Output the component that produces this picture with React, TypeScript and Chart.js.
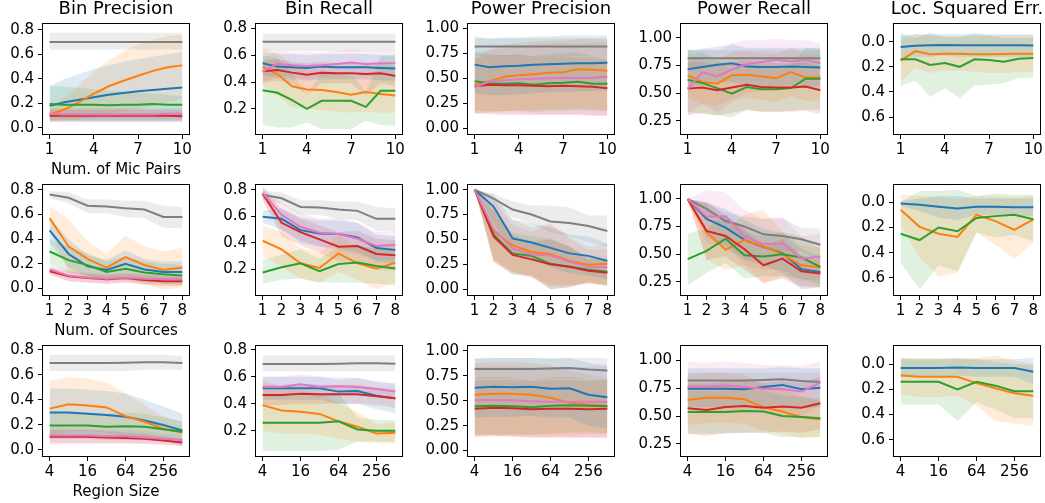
import React, { useEffect, useRef } from "react";
import { Chart, registerables } from "chart.js";
Chart.register(...registerables);
Chart.defaults.font.family = '"DejaVu Sans", sans-serif';
Chart.defaults.color = "#000";

// ---------- x values & ticks ----------
const micPairs = [1, 2, 3, 4, 5, 6, 7, 8, 9, 10];
const numSources = [1, 2, 3, 4, 5, 6, 7, 8];
const regionSizes = [4, 8, 16, 32, 64, 128, 256, 512];
const micTicks = [1, 4, 7, 10];
const srcTicks = [1, 2, 3, 4, 5, 6, 7, 8];
const regionTicks = [4, 16, 64, 256];

const binPrecTicks = [0, 0.2, 0.4, 0.6, 0.8];
const binRecTicks = [0.2, 0.4, 0.6, 0.8];
const powPrecTicks = [0, 0.25, 0.5, 0.75, 1];
const powRecTicks = [0.25, 0.5, 0.75, 1];
const locTicks = [0, 0.2, 0.4, 0.6];

const titles = ["Bin Precision", "Bin Recall", "Power Precision", "Power Recall", "Loc. Squared Err."];
const xLabels = ["Num. of Mic Pairs", "Num. of Sources", "Region Size"];

// ---------- series: [mean, lower, upper] ----------
// Row 1: Num. of Mic Pairs
const bpMicGray = [[0.70,0.70,0.70,0.70,0.70,0.70,0.70,0.70,0.70,0.70],[0.64,0.64,0.64,0.64,0.64,0.64,0.64,0.64,0.64,0.64],[0.775,0.775,0.775,0.775,0.775,0.775,0.775,0.775,0.775,0.775]];
const bpMicBlue = [[0.18,0.21,0.23,0.25,0.27,0.285,0.30,0.31,0.32,0.33],[0.05,0.05,0.05,0.05,0.05,0.05,0.05,0.05,0.05,0.05],[0.34,0.40,0.44,0.48,0.51,0.54,0.56,0.58,0.60,0.62]];
const bpMicOrange = [[0.11,0.15,0.21,0.28,0.34,0.385,0.425,0.465,0.495,0.51],[0.06,0.06,0.07,0.09,0.11,0.13,0.15,0.18,0.21,0.24],[0.17,0.25,0.35,0.46,0.55,0.62,0.68,0.72,0.75,0.76]];
const bpMicGreen = [[0.195,0.19,0.19,0.19,0.185,0.19,0.19,0.195,0.19,0.19],[0.07,0.07,0.07,0.07,0.07,0.07,0.07,0.07,0.07,0.07],[0.345,0.335,0.325,0.315,0.305,0.30,0.29,0.28,0.27,0.26]];
const bpMicRed = [[0.10,0.10,0.10,0.10,0.10,0.10,0.10,0.10,0.10,0.095],[0.05,0.05,0.05,0.05,0.05,0.05,0.05,0.05,0.05,0.05],[0.15,0.15,0.15,0.15,0.15,0.15,0.15,0.15,0.15,0.15]];
const bpMicPink = [[0.115,0.11,0.11,0.11,0.11,0.11,0.11,0.11,0.115,0.115],[0.06,0.06,0.06,0.06,0.06,0.06,0.06,0.06,0.06,0.06],[0.16,0.16,0.16,0.16,0.16,0.16,0.16,0.16,0.16,0.16]];

const brMicGray = [[0.70,0.70,0.70,0.70,0.70,0.70,0.70,0.70,0.70,0.70],[0.63,0.63,0.63,0.63,0.63,0.63,0.63,0.63,0.63,0.63],[0.76,0.76,0.76,0.76,0.76,0.76,0.76,0.76,0.76,0.76]];
const brMicBlue = [[0.54,0.515,0.51,0.505,0.515,0.51,0.51,0.51,0.505,0.50],[0.45,0.43,0.42,0.41,0.42,0.42,0.42,0.42,0.41,0.41],[0.63,0.61,0.61,0.60,0.61,0.61,0.61,0.61,0.60,0.60]];
const brMicOrange = [[0.512,0.46,0.368,0.345,0.34,0.325,0.305,0.325,0.31,0.30],[0.37,0.30,0.21,0.20,0.19,0.18,0.17,0.18,0.17,0.17],[0.65,0.62,0.53,0.49,0.49,0.47,0.44,0.47,0.45,0.43]];
const brMicGreen = [[0.339,0.32,0.265,0.20,0.26,0.26,0.26,0.215,0.335,0.335],[0.08,0.06,0.06,0.10,0.05,0.05,0.05,0.11,0.08,0.07],[0.60,0.58,0.47,0.30,0.47,0.47,0.47,0.32,0.59,0.60]];
const brMicRed = [[0.48,0.49,0.47,0.455,0.47,0.465,0.465,0.46,0.465,0.445],[0.40,0.41,0.39,0.30,0.39,0.39,0.39,0.30,0.39,0.37],[0.56,0.57,0.55,0.54,0.55,0.54,0.54,0.54,0.54,0.52]];
const brMicPink = [[0.477,0.537,0.525,0.52,0.525,0.535,0.545,0.535,0.54,0.54],[0.38,0.45,0.44,0.42,0.44,0.45,0.46,0.44,0.45,0.45],[0.58,0.63,0.62,0.62,0.62,0.63,0.64,0.63,0.63,0.63]];

const ppMicGray = [[0.82,0.82,0.82,0.82,0.82,0.82,0.82,0.82,0.82,0.82],[0.72,0.72,0.72,0.72,0.72,0.72,0.72,0.72,0.72,0.72],[0.90,0.90,0.90,0.90,0.90,0.90,0.90,0.90,0.90,0.90]];
const ppMicBlue = [[0.637,0.61,0.62,0.625,0.635,0.64,0.645,0.65,0.65,0.655],[0.35,0.33,0.33,0.34,0.35,0.36,0.36,0.37,0.37,0.38],[0.92,0.90,0.91,0.91,0.92,0.92,0.93,0.93,0.93,0.93]];
const ppMicOrange = [[0.44,0.47,0.515,0.53,0.54,0.555,0.56,0.59,0.585,0.575],[0.15,0.15,0.17,0.18,0.18,0.19,0.19,0.20,0.19,0.18],[0.74,0.79,0.84,0.86,0.87,0.88,0.88,0.90,0.90,0.89]];
const ppMicGreen = [[0.47,0.45,0.445,0.45,0.435,0.45,0.455,0.465,0.445,0.445],[0.17,0.17,0.17,0.17,0.16,0.17,0.17,0.18,0.17,0.17],[0.77,0.74,0.73,0.74,0.72,0.74,0.75,0.76,0.72,0.72]];
const ppMicRed = [[0.42,0.435,0.43,0.43,0.425,0.42,0.425,0.42,0.415,0.40],[0.14,0.14,0.13,0.13,0.13,0.13,0.13,0.13,0.12,0.12],[0.70,0.73,0.73,0.73,0.72,0.72,0.72,0.71,0.71,0.68]];
const ppMicPink = [[0.41,0.47,0.48,0.49,0.495,0.50,0.505,0.50,0.505,0.515],[0.15,0.16,0.15,0.15,0.14,0.14,0.14,0.14,0.13,0.13],[0.70,0.78,0.80,0.82,0.84,0.85,0.86,0.85,0.86,0.87]];

const prMicGray = [[0.815,0.815,0.815,0.815,0.815,0.815,0.815,0.815,0.815,0.815],[0.74,0.74,0.74,0.74,0.74,0.74,0.74,0.74,0.74,0.74],[0.89,0.89,0.89,0.89,0.89,0.89,0.89,0.89,0.89,0.89]];
const prMicBlue = [[0.715,0.735,0.755,0.77,0.74,0.735,0.735,0.74,0.735,0.73],[0.55,0.57,0.59,0.60,0.57,0.56,0.56,0.57,0.56,0.56],[0.88,0.90,0.92,0.94,0.91,0.91,0.91,0.91,0.91,0.90]];
const prMicOrange = [[0.66,0.60,0.585,0.66,0.665,0.65,0.635,0.69,0.64,0.64],[0.45,0.40,0.38,0.45,0.45,0.44,0.42,0.47,0.43,0.43],[0.87,0.80,0.79,0.87,0.88,0.86,0.85,0.91,0.85,0.85]];
const prMicGreen = [[0.62,0.59,0.545,0.495,0.555,0.535,0.535,0.545,0.63,0.63],[0.33,0.31,0.30,0.28,0.35,0.33,0.33,0.34,0.35,0.35],[0.90,0.87,0.80,0.71,0.76,0.74,0.74,0.75,0.91,0.91]];
const prMicRed = [[0.54,0.55,0.525,0.55,0.575,0.555,0.55,0.55,0.56,0.525],[0.30,0.32,0.30,0.32,0.35,0.33,0.33,0.33,0.34,0.31],[0.78,0.78,0.75,0.78,0.80,0.78,0.77,0.77,0.78,0.74]];
const prMicPink = [[0.538,0.69,0.65,0.715,0.76,0.78,0.80,0.785,0.80,0.77],[0.30,0.40,0.32,0.42,0.50,0.52,0.55,0.53,0.55,0.52],[0.78,0.90,0.88,0.95,0.98,0.98,0.99,0.98,0.98,0.95]];

const leMicBlue = [[0.042,0.032,0.028,0.026,0.028,0.028,0.028,0.028,0.028,0.03],[-0.05,-0.06,-0.06,-0.06,-0.06,-0.06,-0.06,-0.06,-0.06,-0.06],[0.13,0.12,0.12,0.11,0.12,0.12,0.12,0.12,0.12,0.12]];
const leMicOrange = [[0.15,0.075,0.10,0.095,0.095,0.10,0.10,0.098,0.095,0.095],[-0.02,-0.06,-0.05,-0.04,-0.04,-0.04,-0.05,-0.05,-0.05,-0.05],[0.32,0.21,0.25,0.23,0.23,0.24,0.25,0.25,0.24,0.24]];
const leMicGreen = [[0.14,0.14,0.185,0.17,0.20,0.14,0.145,0.16,0.135,0.13],[-0.07,-0.03,-0.07,-0.04,-0.04,-0.07,-0.05,-0.03,-0.03,-0.03],[0.35,0.31,0.44,0.37,0.45,0.35,0.34,0.33,0.29,0.29]];

// Row 2: Num. of Sources
const bpSrcGray = [[0.762,0.735,0.67,0.665,0.65,0.64,0.58,0.58],[0.73,0.69,0.61,0.61,0.58,0.57,0.49,0.49],[0.79,0.78,0.72,0.72,0.71,0.71,0.67,0.66]];
const bpSrcBlue = [[0.47,0.28,0.18,0.15,0.20,0.155,0.135,0.135],[0.37,0.17,0.10,0.08,0.10,0.08,0.06,0.06],[0.57,0.40,0.27,0.23,0.31,0.24,0.22,0.22]];
const bpSrcOrange = [[0.57,0.34,0.24,0.17,0.255,0.19,0.15,0.17],[0.47,0.13,0.10,0.07,0.08,0.04,-0.01,0.01],[0.67,0.56,0.38,0.28,0.43,0.34,0.30,0.33]];
const bpSrcGreen = [[0.30,0.23,0.19,0.135,0.16,0.13,0.115,0.105],[0.20,0.13,0.10,0.06,0.07,0.05,0.04,0.03],[0.40,0.34,0.29,0.22,0.26,0.22,0.20,0.19]];
const bpSrcRed = [[0.14,0.10,0.085,0.075,0.085,0.07,0.06,0.06],[0.11,0.06,0.05,0.04,0.05,0.03,0.02,0.02],[0.17,0.14,0.12,0.11,0.12,0.11,0.10,0.10]];
const bpSrcPink = [[0.155,0.105,0.09,0.08,0.09,0.08,0.075,0.075],[0.12,0.06,0.05,0.04,0.05,0.04,0.03,0.03],[0.19,0.15,0.13,0.12,0.13,0.12,0.12,0.12]];

const brSrcGray = [[0.762,0.735,0.67,0.665,0.65,0.64,0.58,0.58],[0.73,0.69,0.61,0.61,0.58,0.57,0.49,0.49],[0.79,0.78,0.72,0.72,0.71,0.71,0.67,0.66]];
const brSrcBlue = [[0.595,0.58,0.495,0.47,0.465,0.44,0.36,0.345],[0.55,0.50,0.40,0.37,0.36,0.33,0.26,0.24],[0.64,0.66,0.59,0.57,0.57,0.55,0.46,0.45]];
const brSrcOrange = [[0.415,0.35,0.245,0.21,0.32,0.245,0.205,0.25],[0.30,0.22,0.13,0.10,0.18,0.12,0.05,0.10],[0.53,0.48,0.36,0.32,0.46,0.37,0.36,0.40]];
const brSrcGreen = [[0.175,0.215,0.245,0.185,0.24,0.25,0.225,0.205],[0.09,0.12,0.13,0.10,0.10,0.10,0.09,0.08],[0.27,0.31,0.35,0.28,0.37,0.38,0.35,0.33]];
const brSrcRed = [[0.77,0.55,0.48,0.425,0.37,0.375,0.315,0.305],[0.72,0.45,0.38,0.32,0.26,0.26,0.20,0.19],[0.82,0.65,0.58,0.53,0.48,0.49,0.43,0.42]];
const brSrcPink = [[0.775,0.61,0.52,0.475,0.465,0.43,0.375,0.385],[0.73,0.50,0.42,0.37,0.34,0.31,0.27,0.27],[0.82,0.70,0.62,0.58,0.59,0.55,0.48,0.49]];

const ppSrcGray = [[1.0,0.91,0.80,0.75,0.68,0.665,0.635,0.585],[1.0,0.86,0.72,0.66,0.57,0.53,0.47,0.43],[1.0,0.96,0.88,0.84,0.84,0.82,0.74,0.74]];
const ppSrcBlue = [[1.0,0.83,0.51,0.47,0.415,0.36,0.335,0.285],[1.0,0.66,0.34,0.30,0.22,0.16,0.14,0.10],[1.0,0.95,0.70,0.66,0.62,0.55,0.53,0.46]];
const ppSrcOrange = [[1.0,0.58,0.44,0.375,0.355,0.285,0.245,0.255],[1.0,0.29,0.18,0.13,0.05,0.04,0.06,0.05],[1.0,0.87,0.70,0.62,0.66,0.53,0.43,0.46]];
const ppSrcGreen = [[1.0,0.55,0.36,0.335,0.255,0.225,0.195,0.175],[1.0,0.28,0.15,0.14,0.0,0.02,0.07,0.04],[1.0,0.82,0.57,0.53,0.51,0.43,0.32,0.31]];
const ppSrcRed = [[1.0,0.53,0.345,0.30,0.25,0.225,0.185,0.165],[1.0,0.27,0.15,0.12,0.0,0.02,0.07,0.03],[1.0,0.79,0.54,0.48,0.50,0.43,0.30,0.30]];
const ppSrcPink = [[1.0,0.60,0.41,0.35,0.34,0.275,0.225,0.22],[1.0,0.30,0.17,0.12,0.03,0.04,0.05,0.04],[1.0,0.90,0.65,0.58,0.65,0.51,0.40,0.40]];

const prSrcGray = [[1.0,0.91,0.80,0.75,0.68,0.665,0.635,0.585],[1.0,0.86,0.72,0.66,0.57,0.53,0.53,0.44],[1.0,0.96,0.88,0.84,0.82,0.82,0.74,0.73]];
const prSrcBlue = [[1.0,0.82,0.74,0.63,0.565,0.51,0.365,0.34],[1.0,0.66,0.56,0.45,0.40,0.33,0.18,0.20],[1.0,0.97,0.91,0.81,0.73,0.69,0.55,0.48]];
const prSrcOrange = [[1.0,0.70,0.54,0.63,0.57,0.50,0.40,0.38],[1.0,0.45,0.36,0.40,0.24,0.30,0.22,0.20],[1.0,0.95,0.72,0.86,0.90,0.70,0.58,0.56]];
const prSrcGreen = [[0.455,0.53,0.64,0.49,0.48,0.50,0.47,0.385],[0.22,0.33,0.42,0.28,0.30,0.30,0.28,0.22],[0.69,0.73,0.86,0.70,0.66,0.70,0.66,0.55]];
const prSrcRed = [[1.0,0.71,0.665,0.545,0.40,0.46,0.345,0.325],[1.0,0.45,0.48,0.36,0.24,0.28,0.20,0.20],[1.0,0.97,0.85,0.73,0.56,0.64,0.49,0.45]];
const prSrcPink = [[1.0,0.84,0.84,0.66,0.59,0.60,0.46,0.48],[1.0,0.60,0.58,0.40,0.36,0.36,0.26,0.28],[1.0,1.08,1.06,0.90,0.82,0.84,0.66,0.68]];

const leSrcBlue = [[0.01,0.02,0.035,0.05,0.035,0.035,0.04,0.04],[-0.01,-0.03,-0.05,-0.05,-0.03,-0.03,-0.03,-0.03],[0.03,0.07,0.12,0.14,0.10,0.10,0.11,0.11]];
const leSrcOrange = [[0.06,0.195,0.25,0.275,0.10,0.15,0.22,0.135],[-0.06,-0.05,-0.04,-0.03,-0.05,-0.05,-0.04,-0.05],[0.18,0.44,0.59,0.56,0.24,0.34,0.45,0.32]];
const leSrcGreen = [[0.25,0.30,0.20,0.23,0.125,0.11,0.10,0.135],[0.0,-0.09,-0.09,-0.10,-0.05,-0.07,-0.06,-0.06],[0.48,0.69,0.50,0.55,0.24,0.28,0.26,0.31]];

// Row 3: Region Size
const bpRegGray = [[0.695,0.695,0.695,0.695,0.697,0.70,0.70,0.695],[0.63,0.63,0.63,0.63,0.63,0.64,0.64,0.64],[0.76,0.76,0.76,0.76,0.76,0.76,0.76,0.75]];
const bpRegBlue = [[0.30,0.30,0.29,0.28,0.265,0.235,0.20,0.155],[0.10,0.10,0.10,0.10,0.10,0.09,0.08,0.03],[0.49,0.49,0.48,0.47,0.45,0.40,0.35,0.29]];
const bpRegOrange = [[0.33,0.365,0.355,0.34,0.27,0.225,0.17,0.14],[0.10,0.15,0.15,0.14,0.11,0.09,0.07,0.06],[0.55,0.58,0.57,0.54,0.45,0.36,0.27,0.22]];
const bpRegGreen = [[0.195,0.195,0.195,0.185,0.19,0.185,0.165,0.145],[0.09,0.09,0.09,0.08,0.08,0.08,0.07,0.06],[0.30,0.30,0.30,0.29,0.30,0.29,0.26,0.23]];
const bpRegRed = [[0.105,0.105,0.105,0.10,0.095,0.09,0.075,0.06],[0.05,0.05,0.05,0.05,0.05,0.05,0.04,0.03],[0.16,0.16,0.16,0.15,0.14,0.13,0.11,0.09]];
const bpRegPink = [[0.115,0.115,0.115,0.11,0.11,0.10,0.09,0.08],[0.06,0.06,0.06,0.06,0.06,0.05,0.05,0.04],[0.17,0.17,0.17,0.16,0.16,0.15,0.13,0.12]];

const brRegGray = [[0.695,0.695,0.695,0.695,0.697,0.70,0.70,0.697],[0.64,0.64,0.64,0.64,0.64,0.64,0.64,0.64],[0.76,0.76,0.76,0.76,0.76,0.76,0.76,0.76]];
const brRegBlue = [[0.515,0.515,0.515,0.515,0.49,0.495,0.46,0.44],[0.43,0.43,0.43,0.43,0.40,0.40,0.36,0.33],[0.60,0.60,0.60,0.60,0.58,0.59,0.56,0.55]];
const brRegOrange = [[0.39,0.35,0.34,0.325,0.27,0.23,0.18,0.185],[0.20,0.18,0.18,0.17,0.14,0.12,0.11,0.11],[0.58,0.52,0.50,0.48,0.40,0.34,0.25,0.26]];
const brRegGreen = [[0.26,0.26,0.26,0.26,0.27,0.21,0.20,0.20],[0.05,0.05,0.05,0.05,0.06,0.12,0.12,0.12],[0.47,0.47,0.47,0.47,0.48,0.30,0.28,0.28]];
const brRegRed = [[0.465,0.465,0.475,0.47,0.47,0.47,0.455,0.44],[0.39,0.39,0.40,0.40,0.40,0.40,0.39,0.37],[0.54,0.54,0.55,0.54,0.54,0.54,0.52,0.51]];
const brRegPink = [[0.525,0.525,0.545,0.525,0.53,0.525,0.51,0.49],[0.45,0.45,0.47,0.45,0.46,0.46,0.45,0.43],[0.60,0.60,0.62,0.60,0.60,0.59,0.57,0.55]];

const ppRegGray = [[0.82,0.82,0.82,0.82,0.825,0.83,0.815,0.805],[0.72,0.72,0.72,0.72,0.72,0.72,0.72,0.72],[0.93,0.93,0.93,0.93,0.93,0.93,0.93,0.93]];
const ppRegBlue = [[0.63,0.64,0.635,0.64,0.62,0.625,0.56,0.535],[0.33,0.34,0.34,0.35,0.33,0.33,0.25,0.22],[0.92,0.93,0.93,0.93,0.92,0.93,0.88,0.86]];
const ppRegOrange = [[0.56,0.57,0.57,0.56,0.53,0.48,0.46,0.45],[0.15,0.15,0.15,0.15,0.15,0.15,0.16,0.17],[0.88,0.89,0.89,0.88,0.86,0.80,0.76,0.73]];
const ppRegGreen = [[0.445,0.45,0.445,0.435,0.45,0.455,0.45,0.445],[0.16,0.16,0.16,0.16,0.17,0.18,0.18,0.17],[0.73,0.74,0.73,0.72,0.73,0.74,0.72,0.72]];
const ppRegRed = [[0.42,0.43,0.425,0.415,0.42,0.42,0.415,0.42],[0.14,0.15,0.14,0.13,0.13,0.13,0.13,0.13],[0.70,0.71,0.71,0.70,0.71,0.71,0.70,0.71]];
const ppRegPink = [[0.505,0.505,0.505,0.495,0.49,0.49,0.49,0.49],[0.13,0.14,0.14,0.13,0.13,0.13,0.13,0.12],[0.84,0.85,0.85,0.84,0.84,0.84,0.84,0.85]];

const prRegGray = [[0.82,0.82,0.82,0.82,0.825,0.83,0.815,0.805],[0.74,0.74,0.74,0.74,0.74,0.74,0.74,0.74],[0.89,0.89,0.89,0.89,0.89,0.89,0.89,0.89]];
const prRegBlue = [[0.745,0.745,0.745,0.74,0.76,0.78,0.74,0.755],[0.58,0.58,0.58,0.58,0.59,0.60,0.57,0.58],[0.93,0.93,0.93,0.93,0.93,0.94,0.93,0.93]];
const prRegOrange = [[0.645,0.665,0.665,0.65,0.58,0.54,0.49,0.47],[0.42,0.44,0.44,0.43,0.37,0.34,0.30,0.31],[0.87,0.89,0.89,0.87,0.79,0.74,0.68,0.63]];
const prRegGreen = [[0.535,0.535,0.535,0.545,0.54,0.50,0.49,0.48],[0.34,0.34,0.34,0.35,0.35,0.31,0.31,0.31],[0.73,0.73,0.73,0.74,0.73,0.69,0.67,0.65]];
const prRegRed = [[0.57,0.555,0.58,0.59,0.575,0.585,0.575,0.615],[0.34,0.32,0.35,0.35,0.35,0.36,0.35,0.38],[0.80,0.79,0.81,0.83,0.80,0.81,0.80,0.85]];
const prRegPink = [[0.765,0.765,0.775,0.76,0.745,0.74,0.72,0.80],[0.55,0.53,0.55,0.54,0.53,0.52,0.49,0.60],[0.99,0.98,0.99,0.98,0.96,0.96,0.95,0.99]];

const leRegBlue = [[0.03,0.03,0.03,0.025,0.03,0.03,0.03,0.06],[-0.04,-0.04,-0.04,-0.04,-0.04,-0.04,-0.04,-0.05],[0.10,0.10,0.10,0.09,0.10,0.10,0.10,0.16]];
const leRegOrange = [[0.09,0.10,0.10,0.10,0.15,0.19,0.23,0.25],[-0.05,-0.05,-0.05,-0.05,-0.05,-0.07,-0.03,0.0],[0.24,0.26,0.26,0.25,0.33,0.45,0.47,0.49]];
const leRegGreen = [[0.14,0.14,0.14,0.20,0.14,0.17,0.215,0.215],[-0.05,-0.04,-0.04,-0.05,-0.04,-0.02,0.0,0.0],[0.32,0.32,0.32,0.45,0.30,0.36,0.43,0.43]];

// ---------- styling ----------
const COLORS: Record<string, [number, number, number]> = {
  gray: [127, 127, 127],
  blue: [31, 119, 180],
  orange: [255, 127, 14],
  green: [44, 160, 44],
  red: [214, 39, 40],
  pink: [227, 119, 194],
};
const BAND_ALPHA = 0.15;
const BOX_W = 146;
const BOX_H = 110;
const Y_W = 54;
const X_H = 45;
const PAD_TOP = 24;
const PAD_RIGHT = 12;
const COL_LEFT = [43, 256, 468, 681, 894];
const ROW_TOP = [24, 185, 346];
const TICK_FONT = 15;
const TITLE_FONT = 18;

type Series = { color: string; data: number[][] };
type PanelCfg = {
  row: number; col: number;
  xs: number[]; xTicks: number[]; logX: boolean; xMin: number; xMax: number;
  yTicks: number[]; yMin: number; yMax: number; reverse: boolean; dec: number;
  series: Series[];
};

const six = (g: number[][], b: number[][], o: number[][], gr: number[][], r: number[][], p: number[][]): Series[] => [
  { color: "gray", data: g }, { color: "blue", data: b }, { color: "orange", data: o },
  { color: "green", data: gr }, { color: "red", data: r }, { color: "pink", data: p },
];
const three = (b: number[][], o: number[][], gr: number[][]): Series[] => [
  { color: "blue", data: b }, { color: "orange", data: o }, { color: "green", data: gr },
];

const micX = { xs: micPairs, xTicks: micTicks, logX: false, xMin: 0.55, xMax: 10.45 };
const srcX = { xs: numSources, xTicks: srcTicks, logX: false, xMin: 0.65, xMax: 8.35 };
const regX = { xs: regionSizes, xTicks: regionTicks, logX: true, xMin: Math.pow(2, 1.65), xMax: Math.pow(2, 9.35) };

const PANELS: PanelCfg[] = [
  { row: 0, col: 0, ...micX, yTicks: binPrecTicks, yMin: -0.049, yMax: 0.847, reverse: false, dec: 1, series: six(bpMicGray, bpMicBlue, bpMicOrange, bpMicGreen, bpMicRed, bpMicPink) },
  { row: 0, col: 1, ...micX, yTicks: binRecTicks, yMin: 0.012, yMax: 0.833, reverse: false, dec: 1, series: six(brMicGray, brMicBlue, brMicOrange, brMicGreen, brMicRed, brMicPink) },
  { row: 0, col: 2, ...micX, yTicks: powPrecTicks, yMin: -0.06, yMax: 1.045, reverse: false, dec: 2, series: six(ppMicGray, ppMicBlue, ppMicOrange, ppMicGreen, ppMicRed, ppMicPink) },
  { row: 0, col: 3, ...micX, yTicks: powRecTicks, yMin: 0.13, yMax: 1.124, reverse: false, dec: 2, series: six(prMicGray, prMicBlue, prMicOrange, prMicGreen, prMicRed, prMicPink) },
  { row: 0, col: 4, ...micX, yTicks: locTicks, yMin: -0.141, yMax: 0.735, reverse: true, dec: 1, series: three(leMicBlue, leMicOrange, leMicGreen) },
  { row: 1, col: 0, ...srcX, yTicks: binPrecTicks, yMin: -0.052, yMax: 0.838, reverse: false, dec: 1, series: six(bpSrcGray, bpSrcBlue, bpSrcOrange, bpSrcGreen, bpSrcRed, bpSrcPink) },
  { row: 1, col: 1, ...srcX, yTicks: binRecTicks, yMin: 0.006, yMax: 0.835, reverse: false, dec: 1, series: six(brSrcGray, brSrcBlue, brSrcOrange, brSrcGreen, brSrcRed, brSrcPink) },
  { row: 1, col: 2, ...srcX, yTicks: powPrecTicks, yMin: -0.058, yMax: 1.047, reverse: false, dec: 2, series: six(ppSrcGray, ppSrcBlue, ppSrcOrange, ppSrcGreen, ppSrcRed, ppSrcPink) },
  { row: 1, col: 3, ...srcX, yTicks: powRecTicks, yMin: 0.131, yMax: 1.126, reverse: false, dec: 2, series: six(prSrcGray, prSrcBlue, prSrcOrange, prSrcGreen, prSrcRed, prSrcPink) },
  { row: 1, col: 4, ...srcX, yTicks: locTicks, yMin: -0.137, yMax: 0.736, reverse: true, dec: 1, series: three(leSrcBlue, leSrcOrange, leSrcGreen) },
  { row: 2, col: 0, ...regX, yTicks: binPrecTicks, yMin: -0.048, yMax: 0.83, reverse: false, dec: 1, series: six(bpRegGray, bpRegBlue, bpRegOrange, bpRegGreen, bpRegRed, bpRegPink) },
  { row: 2, col: 1, ...regX, yTicks: binRecTicks, yMin: 0.013, yMax: 0.828, reverse: false, dec: 1, series: six(brRegGray, brRegBlue, brRegOrange, brRegGreen, brRegRed, brRegPink) },
  { row: 2, col: 2, ...regX, yTicks: powPrecTicks, yMin: -0.055, yMax: 1.05, reverse: false, dec: 2, series: six(ppRegGray, ppRegBlue, ppRegOrange, ppRegGreen, ppRegRed, ppRegPink) },
  { row: 2, col: 3, ...regX, yTicks: powRecTicks, yMin: 0.14, yMax: 1.13, reverse: false, dec: 2, series: six(prRegGray, prRegBlue, prRegOrange, prRegGreen, prRegRed, prRegPink) },
  { row: 2, col: 4, ...regX, yTicks: locTicks, yMin: -0.145, yMax: 0.729, reverse: true, dec: 1, series: three(leRegBlue, leRegOrange, leRegGreen) },
];

const rgba = (c: [number, number, number], a: number) => `rgba(${c[0]},${c[1]},${c[2]},${a})`;

const framePlugin = {
  id: "frame",
  afterDraw(chart: any, _args: any, opts: any) {
    const { ctx, chartArea: a } = chart;
    ctx.save();
    ctx.strokeStyle = "#000";
    ctx.lineWidth = 1;
    ctx.strokeRect(Math.round(a.left) - 0.5, Math.round(a.top) - 0.5, Math.round(a.right - a.left) + 1, Math.round(a.bottom - a.top) + 1);
    ctx.fillStyle = "#000";
    ctx.textAlign = "center";
    ctx.textBaseline = "alphabetic";
    const cx = (a.left + a.right) / 2;
    if (opts.title) {
      ctx.font = `${TITLE_FONT}px "DejaVu Sans"`;
      ctx.fillText(opts.title, cx, a.top - 10);
    }
    if (opts.xlabel) {
      ctx.font = `${TICK_FONT}px "DejaVu Sans"`;
      ctx.fillText(opts.xlabel, cx, a.bottom + 40);
    }
    ctx.restore();
  },
};

function Panel({ cfg }: { cfg: PanelCfg }) {
  const ref = useRef<HTMLCanvasElement | null>(null);
  const W = Y_W + BOX_W + PAD_RIGHT;
  const H = PAD_TOP + BOX_H + X_H;
  useEffect(() => {
    const datasets: any[] = [];
    cfg.series.forEach((s) => {
      const c = COLORS[s.color];
      datasets.push({
        data: cfg.xs.map((x, i) => ({ x, y: s.data[1][i] })),
        borderWidth: 0, pointRadius: 0, fill: false, order: 2, borderColor: "rgba(0,0,0,0)",
      });
      datasets.push({
        data: cfg.xs.map((x, i) => ({ x, y: s.data[2][i] })),
        borderWidth: 0, pointRadius: 0, fill: "-1", order: 2, borderColor: "rgba(0,0,0,0)",
        backgroundColor: rgba(c, BAND_ALPHA),
      });
    });
    [...cfg.series].reverse().forEach((s) => {
      const c = COLORS[s.color];
      datasets.push({
        data: cfg.xs.map((x, i) => ({ x, y: s.data[0][i] })),
        borderColor: rgba(c, 1), borderWidth: 2, pointRadius: 0, fill: false, order: 1, tension: 0,
      });
    });
    const grid = { display: true, drawOnChartArea: false, drawTicks: true, tickLength: 5, color: "#000", lineWidth: 1 };
    const chart = new Chart(ref.current as HTMLCanvasElement, {
      type: "line",
      data: { datasets },
      options: {
        animation: false,
        responsive: false,
        events: [],
        layout: { padding: { top: PAD_TOP, right: PAD_RIGHT, left: 0, bottom: 0 } },
        plugins: {
          legend: { display: false },
          tooltip: { enabled: false },
          filler: { drawTime: "beforeDatasetsDraw" },
          frame: { title: cfg.row === 0 ? titles[cfg.col] : "", xlabel: cfg.col === 0 ? xLabels[cfg.row] : "" },
        } as any,
        scales: {
          x: {
            type: cfg.logX ? "logarithmic" : "linear",
            min: cfg.xMin, max: cfg.xMax,
            grid, border: { display: false },
            afterBuildTicks: (s: any) => { s.ticks = cfg.xTicks.map((v) => ({ value: v })); },
            afterFit: (s: any) => { s.height = X_H; s.paddingLeft = 0; s.paddingRight = 0; },
            ticks: { autoSkip: false, maxRotation: 0, minRotation: 0, padding: 2, font: { size: TICK_FONT }, color: "#000", callback: (v: any) => String(v) },
          },
          y: {
            type: "linear", min: cfg.yMin, max: cfg.yMax, reverse: cfg.reverse,
            grid, border: { display: false },
            afterBuildTicks: (s: any) => { s.ticks = cfg.yTicks.map((v) => ({ value: v })); },
            afterFit: (s: any) => { s.width = Y_W; s.paddingTop = 0; s.paddingBottom = 0; },
            ticks: { autoSkip: false, padding: 4, font: { size: TICK_FONT }, color: "#000", callback: (v: any) => Number(v).toFixed(cfg.dec) },
          },
        } as any,
      },
      plugins: [framePlugin],
    } as any);
    return () => chart.destroy();
  }, []);
  return (
    <canvas
      ref={ref}
      width={W}
      height={H}
      style={{ position: "absolute", left: COL_LEFT[cfg.col] - Y_W, top: ROW_TOP[cfg.row] - PAD_TOP, width: W, height: H }}
    />
  );
}

export default function App() {
  return (
    <div style={{ position: "fixed", left: 0, top: 0, width: 1045, height: 503, background: "#fff", overflow: "hidden" }}>
      {PANELS.map((p, i) => (
        <Panel key={i} cfg={p} />
      ))}
    </div>
  );
}
